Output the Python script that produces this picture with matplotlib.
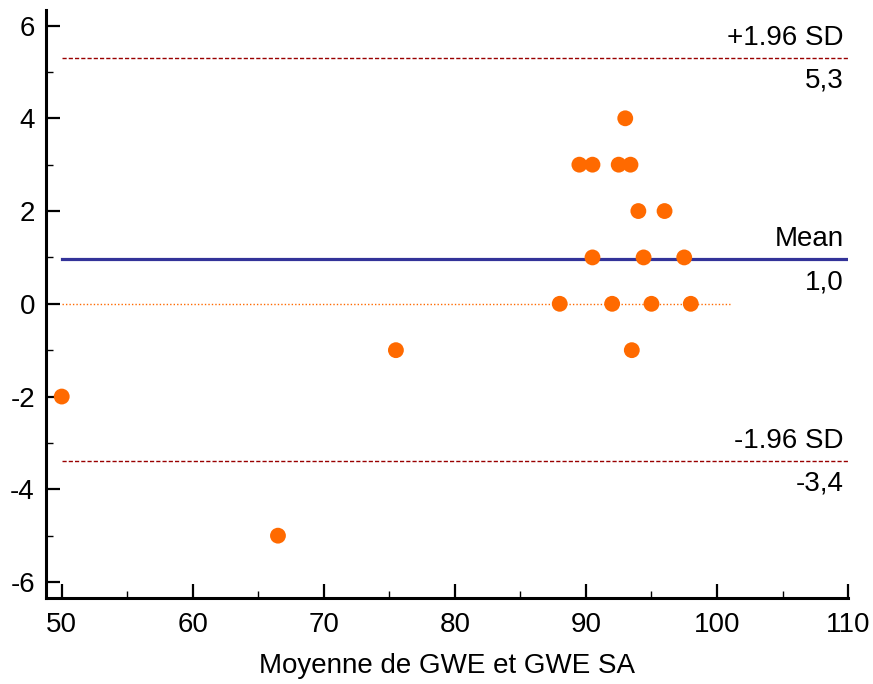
import numpy as np
import matplotlib.pyplot as plt
from matplotlib.ticker import MultipleLocator

# Données
moyenne = [50, 66.5, 75.5, 88, 89.5, 90.5, 90.5, 92, 92.5, 93, 93.4, 93.5,
           94, 94.4, 95, 96, 97.5, 98]
difference = [-2, -5, -1, 0, 3, 3, 1, 0, 3, 4, 3, -1, 2, 1, 0, 2, 1, 0]

mean_diff = 0.96
upper_loa = 5.30
lower_loa = -3.39

xlim = (48.8, 110)
ylim = (-6.34, 6.34)

plt.rcParams['font.family'] = ['Liberation Sans', 'DejaVu Sans']
plt.rcParams['axes.unicode_minus'] = False

fig = plt.figure(figsize=(8.73, 6.84), dpi=100)
ax = fig.add_axes([0.0527, 0.126, 0.9187, 0.8597])

# Lignes de référence
ax.plot([50, 101], [0, 0], color='#FF6A00', linestyle=(0, (1, 1.5)), linewidth=1.0, zorder=1)
ax.plot([50, 110], [mean_diff, mean_diff], color='#333399', linewidth=2.3, zorder=2)
ax.plot([50, 110], [upper_loa, upper_loa], color='#990000', linestyle=(0, (3, 1.5)), linewidth=1.0, zorder=2)
ax.plot([50, 110], [lower_loa, lower_loa], color='#990000', linestyle=(0, (3, 1.5)), linewidth=1.0, zorder=2)

# Points
ax.scatter(moyenne, difference, s=130, color='#FF6A00', edgecolors='none', zorder=3)

# Étiquettes des lignes
labels = [('+1.96 SD', upper_loa), ('Mean', mean_diff), ('-1.96 SD', lower_loa)]
for txt, val in labels:
    ax.annotate(txt, xy=(110, val), xytext=(-3, 5), textcoords='offset points',
                ha='right', va='bottom', fontsize=20)
    ax.annotate(f'{val:.1f}'.replace('.', ','), xy=(110, val), xytext=(-3, -7),
                textcoords='offset points', ha='right', va='top', fontsize=20)

ax.set_xlim(*xlim)
ax.set_ylim(*ylim)
ax.xaxis.set_major_locator(MultipleLocator(10))
ax.xaxis.set_minor_locator(MultipleLocator(5))
ax.yaxis.set_major_locator(MultipleLocator(2))
ax.yaxis.set_minor_locator(MultipleLocator(1))

for s in ['top', 'right']:
    ax.spines[s].set_visible(False)
for s in ['left', 'bottom']:
    ax.spines[s].set_linewidth(2.2)

ax.tick_params(which='major', direction='in', length=10, width=1.6, labelsize=20, pad=10)
ax.tick_params(axis='y', which='major', pad=8)
ax.tick_params(which='minor', direction='in', length=5, width=1.0)
ax.set_xlabel('Moyenne de GWE et GWE SA', fontsize=20, labelpad=11)

fig.savefig('out.png', dpi=100)
